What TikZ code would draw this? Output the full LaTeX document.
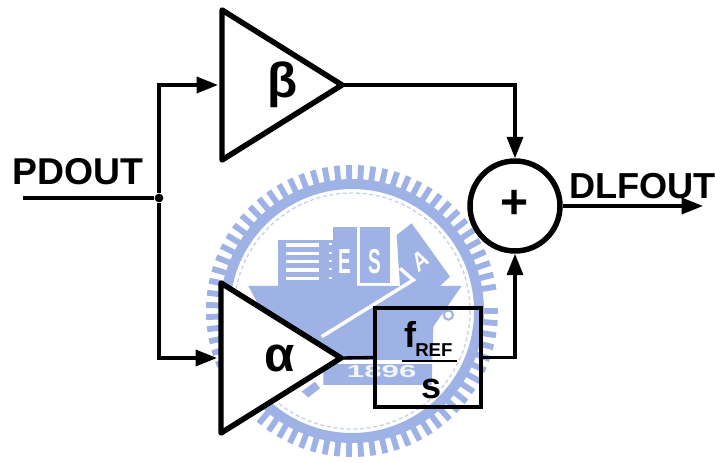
\documentclass[tikz,border=0pt]{standalone}
\usepackage{fontspec}
\setmainfont{Liberation Sans}
\usetikzlibrary{arrows.meta,shapes.geometric}
\definecolor{wm}{HTML}{9FB2E6}
\tikzset{
  x=0.75pt,y=-0.75pt,
  wire/.style={line width=2.5pt,line join=miter},
  arrowed/.style={wire,-{Triangle[length=16pt,width=12pt]}},
  amp/.style={draw,line width=4.1pt,line join=round,fill=white,isosceles triangle,isosceles triangle apex angle=60,isosceles triangle stretches,minimum width=112.5pt,minimum height=90pt,inner sep=0pt,outer sep=0pt,anchor=apex},
  lab/.style={font=\bfseries\fontsize{28pt}{30pt}\selectfont,inner sep=0pt,anchor=base west},
  greek/.style={font=\bfseries\fontsize{37pt}{40pt}\selectfont,inner sep=0pt},
  frac/.style={font=\bfseries\fontsize{27pt}{30pt}\selectfont,inner sep=0pt,anchor=base west},
  wmtext/.style={text=white,inner sep=0pt},
}
\begin{document}
\begin{tikzpicture}
\useasboundingbox (0,0) rectangle (715,463);
% watermark
\begin{scope}[shift={(352,311)}]
  \draw[wm,line width=7.5pt] (0,0) circle[radius=127];
  \foreach \a in {0,4.8,...,355}{\draw[wm,line width=4.4pt] (\a:128) -- (\a:146);}
  \draw[wm!60,line width=1pt,densely dashed] (0,0) circle[radius=118];
\end{scope}
\begin{scope}[shift={(200,160)},x=0.25pt,y=-0.25pt]
  \fill[wm] (145,378) -- (785,378) -- (700,500) -- (695,675) -- (370,675) -- (370,640) -- (200,480) -- cycle;
  \fill[white] (370,600) rectangle (700,612);
  \fill[wm] (235,240) rectangle (400,378);
  \fill[wm] (400,200) rectangle (470,378);
  \fill[wm] (480,200) rectangle (570,368);
  \fill[wm] (590,225) -- (635,190) -- (750,350) -- (720,378) -- (600,378) -- cycle;
  \fill[wm] (305,695) -- (345,665) -- (360,685) -- (325,712) -- cycle;
  \foreach \yy in {250,275,300,325,350}{\fill[white] (258,\yy) rectangle (358,\yy+10);}
  \foreach \yy in {250,275,300,325,350}{\fill[white] (387,\yy) rectangle (395,\yy+6);}
  \draw[white,line width=2.6pt] (365,530) -- (640,360) -- (600,325);
  \draw[wm,line width=1.6pt] (745,465) circle[radius=14];
  \node[wmtext,font=\bfseries\fontsize{26pt}{28pt}\selectfont,xscale=0.55] (wmE) at (435,305) {E};
  \node[wmtext,font=\bfseries\fontsize{26pt}{28pt}\selectfont,xscale=0.55] (wmS) at (525,305) {S};
  \node[wmtext,font=\bfseries\fontsize{20pt}{22pt}\selectfont,xscale=0.75,rotate=35] (wmA) at (660,300) {A};
  \node[wmtext,text=white!85!wm,font=\bfseries\fontsize{13pt}{15pt}\selectfont,xscale=1.8] (wmY) at (545,635) {1896};
\end{scope}
% blocks
\node[amp] (beta) at (342,85) {};
\node[amp] (alpha) at (341,358) {};
\node[circle,draw,fill=white,line width=4.1pt,minimum size=67.5pt,inner sep=0pt] (sum) at (515,206) {};
\node[draw,line width=3.4pt,minimum width=79.5pt,minimum height=74.5pt,inner sep=0pt,outer sep=0pt] (int) at (428,357.5) {};
\node[circle,fill=black,minimum size=6.5pt,inner sep=0pt] (jn) at (159,198) {};
\coordinate (in) at (23,198);
\coordinate (out) at (703,206);
% connectors
\draw[wire] (in) -- (jn);
\draw[arrowed] (jn) |- ([xshift=-3pt]beta.lower side);
\draw[arrowed] (jn) |- ([xshift=-3pt]alpha.lower side);
\draw[arrowed] (beta.apex) -| (sum.north);
\draw[wire] (alpha.apex) -- (int.west);
\draw[arrowed] (int.east) -| (sum.south);
\draw[arrowed] (sum.east) -- (out);
% labels
\node[lab] (pd) at (12,185) {PDOUT};
\node[lab,font=\bfseries\fontsize{27.1pt}{30pt}\selectfont] (dl) at (569,199) {DLFOUT};
\node[greek] (b) at (283,85) {β};
\node[greek] (a) at (280,358) {α};
\node[font=\bfseries\fontsize{36pt}{38pt}\selectfont,inner sep=0pt] (plus) at (515,204) {+};
\node[frac] (f) at (404,348) {f};
\node[font=\bfseries\fontsize{14pt}{16pt}\selectfont,inner sep=0pt,anchor=base west] (ref) at (415,357) {REF};
\node[frac] (s) at (421,399) {s};
\draw[line width=0.8pt] (402,361) -- (457,361);
\end{tikzpicture}
\end{document}
